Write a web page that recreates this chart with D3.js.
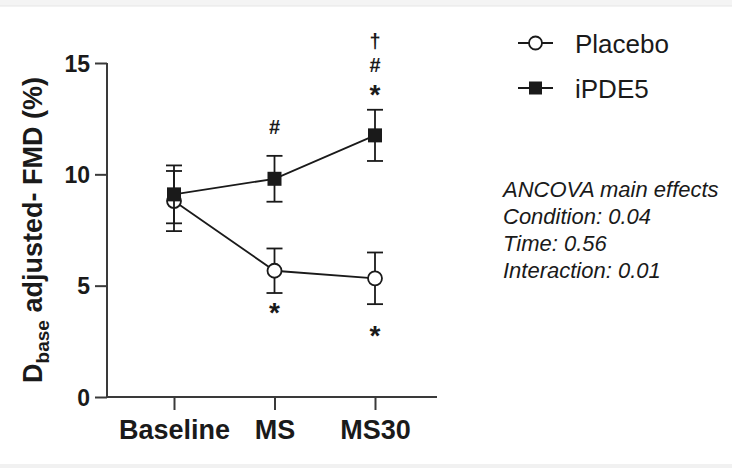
<!DOCTYPE html>
<html>
<head>
<meta charset="utf-8">
<script src="https://cdn.jsdelivr.net/npm/d3@7/dist/d3.min.js"></script>
<style>
  html, body { margin: 0; padding: 0; background: #fff; }
  svg { display: block; }
  text { font-family: "Liberation Sans", Arial, Helvetica, sans-serif; }
</style>
</head>
<body>
<svg id="chart" width="732" height="468"></svg>
<script>
// ---- data ----
const categories = ["Baseline", "MS", "MS30"];
const placeboMean = [8.8, 5.67, 5.33];
const placeboErr  = [1.35, 1.0, 1.16];
const ipde5Mean   = [9.1, 9.8, 11.75];
const ipde5Err    = [1.3, 1.03, 1.15];
const yTicks = [0, 5, 10, 15];
const seriesNames = ["Placebo", "iPDE5"];
// significance symbols: above iPDE5 (stacked bottom→top), below Placebo
const ipde5Symbols   = [[], ["#"], ["*", "#", "†"]];
const placeboSymbols = [[], ["*"], ["*"]];
const statsLines = ["ANCOVA main effects", "Condition: 0.04", "Time: 0.56", "Interaction: 0.01"];

// ---- layout ----
const svg = d3.select("#chart");
const axisColor = "#3a3a3a";
const ink = "#1a1a1a";

// light frame bands of the screenshot
svg.append("rect").attr("x", 0).attr("y", 0).attr("width", 732).attr("height", 6).attr("fill", "#f4f4f4");
svg.append("line").attr("x1", 0).attr("x2", 732).attr("y1", 6).attr("y2", 6).attr("stroke", "#e6e6e6");
svg.append("rect").attr("x", 0).attr("y", 464).attr("width", 732).attr("height", 4).attr("fill", "#f1f1f1");

const x = d3.scalePoint().domain(categories).range([174, 375]);
const y = d3.scaleLinear().domain([0, 15]).range([397, 63]);
const axisLeftX = 107, axisRightX = 437;

// y axis
const gy = svg.append("g").attr("transform", `translate(${axisLeftX},0)`)
  .call(d3.axisLeft(y).tickValues(yTicks).tickSize(12).tickPadding(5).tickSizeOuter(0));
gy.select(".domain").attr("stroke", axisColor).attr("stroke-width", 2)
  .attr("d", `M0,${y(15)}V${y(0)}`);
gy.selectAll(".tick line").attr("stroke", axisColor).attr("stroke-width", 2);
gy.selectAll(".tick text").attr("fill", ink).style("font-size", "23px").style("font-weight", "bold")
  .style("font-family", "'Liberation Sans', Arial, sans-serif").attr("dy", "0.36em");

// x axis
const gx = svg.append("g").attr("transform", `translate(0,${y(0)})`)
  .call(d3.axisBottom(x).tickSize(13).tickPadding(10).tickSizeOuter(0));
gx.select(".domain").attr("stroke", axisColor).attr("stroke-width", 2)
  .attr("d", `M${axisLeftX - 1},0H${axisRightX}`);
gx.selectAll(".tick line").attr("stroke", axisColor).attr("stroke-width", 2);
gx.selectAll(".tick text").attr("fill", ink).style("font-size", "27px").style("font-weight", "bold")
  .style("font-family", "'Liberation Sans', Arial, sans-serif");

// y axis title
const yt = svg.append("text")
  .attr("transform", `translate(42,${(y(0) + y(15)) / 2 + 0}) rotate(-90)`)
  .attr("text-anchor", "middle")
  .attr("fill", ink)
  .style("font-size", "27px").style("font-weight", "bold");
yt.append("tspan").text("D");
yt.append("tspan").text("base").style("font-size", "19px").attr("dy", "7");
yt.append("tspan").text(" adjusted- FMD (%)").attr("dy", "-7");

// series
function drawSeries(means, errs, kind) {
  const pts = categories.map((c, i) => ({ c, m: means[i], e: errs[i] }));
  const line = d3.line().x(d => x(d.c)).y(d => y(d.m));
  svg.append("path").datum(pts).attr("d", line)
    .attr("fill", "none").attr("stroke", ink).attr("stroke-width", 1.8);
  const g = svg.append("g");
  const eb = g.selectAll("g.eb").data(pts).enter().append("g");
  eb.append("line").attr("x1", d => x(d.c)).attr("x2", d => x(d.c))
    .attr("y1", d => y(d.m + d.e)).attr("y2", d => y(d.m - d.e))
    .attr("stroke", ink).attr("stroke-width", 1.8);
  [1, -1].forEach(s => {
    eb.append("line").attr("x1", d => x(d.c) - 8).attr("x2", d => x(d.c) + 8)
      .attr("y1", d => y(d.m + s * d.e)).attr("y2", d => y(d.m + s * d.e))
      .attr("stroke", ink).attr("stroke-width", 1.8);
  });
  if (kind === "circle") {
    g.selectAll("circle").data(pts).enter().append("circle")
      .attr("cx", d => x(d.c)).attr("cy", d => y(d.m)).attr("r", 7)
      .attr("fill", "#fff").attr("stroke", ink).attr("stroke-width", 1.8);
  } else {
    g.selectAll("rect").data(pts).enter().append("rect")
      .attr("x", d => x(d.c) - 7).attr("y", d => y(d.m) - 7)
      .attr("width", 14).attr("height", 14).attr("fill", ink);
  }
  return pts;
}
drawSeries(placeboMean, placeboErr, "circle");
drawSeries(ipde5Mean, ipde5Err, "square");

// significance symbols
const glyphSize = { "*": 28, "#": 20, "†": 20 };
const glyphCenter = { "*": 14.5, "#": 7, "†": 5.5 }; // px from baseline to glyph centre
const aboveGaps = { 1: [29], 2: [20, 45, 67] };
const belowGaps = { 1: [14], 2: [26] };
function addSym(cx, cy, s) {
  svg.append("text").attr("x", cx).attr("y", cy + glyphCenter[s])
    .attr("text-anchor", "middle").attr("fill", ink)
    .style("font-size", glyphSize[s] + "px").style("font-weight", "bold").text(s);
}
ipde5Symbols.forEach((syms, i) => {
  syms.forEach((s, k) => addSym(x(categories[i]), y(ipde5Mean[i] + ipde5Err[i]) - aboveGaps[i][k], s));
});
placeboSymbols.forEach((syms, i) => {
  syms.forEach((s, k) => addSym(x(categories[i]), y(placeboMean[i] - placeboErr[i]) + belowGaps[i][k], s));
});

// legend
const leg = svg.append("g");
seriesNames.forEach((name, i) => {
  const ly = 43 + i * 45;
  leg.append("line").attr("x1", 518).attr("x2", 553).attr("y1", ly).attr("y2", ly)
    .attr("stroke", ink).attr("stroke-width", 1.8);
  if (i === 0) {
    leg.append("circle").attr("cx", 535.5).attr("cy", ly).attr("r", 6.5)
      .attr("fill", "#fff").attr("stroke", ink).attr("stroke-width", 1.8);
  } else {
    leg.append("rect").attr("x", 529).attr("y", ly - 6.5).attr("width", 13).attr("height", 13).attr("fill", ink);
  }
  leg.append("text").attr("x", 575).attr("y", ly + 9.5).attr("fill", ink)
    .style("font-size", "26px").text(name);
});

// stats text
statsLines.forEach((t, i) => {
  svg.append("text").attr("x", 503).attr("y", 197 + i * 27)
    .attr("fill", ink).style("font-size", "22px").style("font-style", "italic").text(t);
});
</script>
</body>
</html>
